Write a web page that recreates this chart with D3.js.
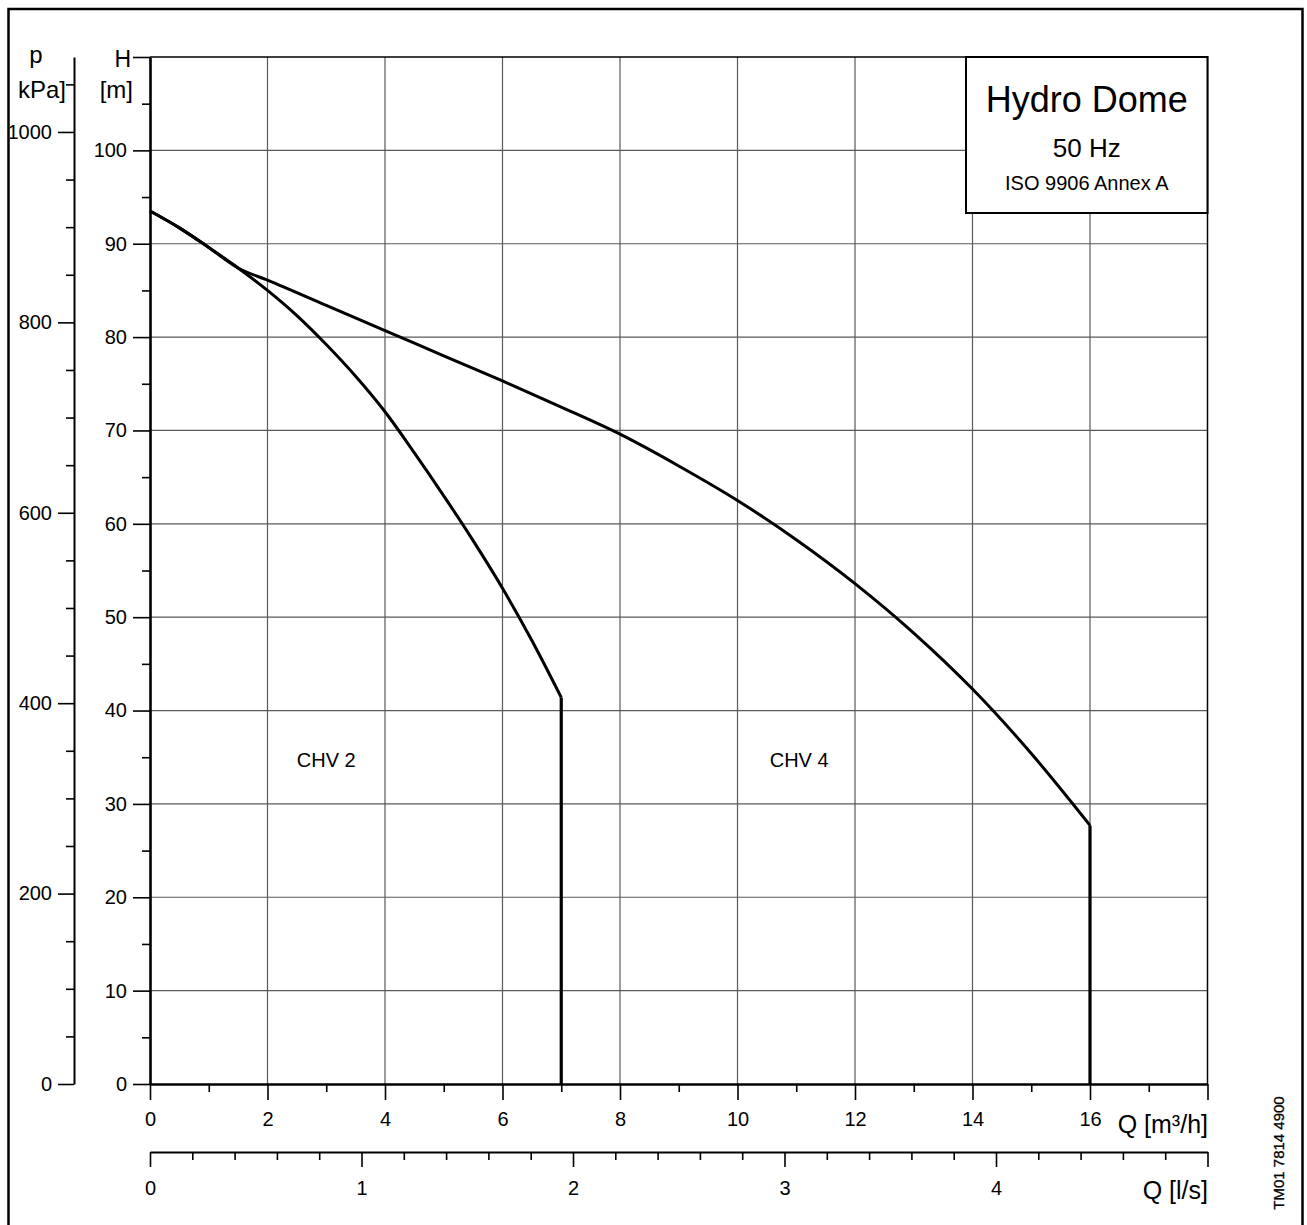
<!DOCTYPE html>
<html>
<head>
<meta charset="utf-8">
<script src="https://cdn.jsdelivr.net/npm/d3@7"></script>
<style>
  body { margin: 0; background: #fff; }
  svg { display: block; font-family: "Liberation Sans", Arial, sans-serif; }
</style>
</head>
<body>
<script>
// pump curves: Q in m3/h, H in m (last point = drop to zero at max flow)
var chv2Q = [0, 0.5, 1, 1.5, 2, 2.5, 3, 3.5, 4, 4.5, 5, 5.5, 6, 6.5, 7, 7];
var chv2H = [93.5, 91.7, 89.6, 87.4, 85.0, 82.3, 79.2, 75.8, 72.0, 67.6, 63.0, 58.2, 53.1, 47.5, 41.4, 0];

var chv4Q = [0, 0.5, 1, 1.5, 2, 3, 4, 5, 6, 7, 8, 9, 10, 11, 12, 13, 14, 15, 16, 16];
var chv4H = [93.5, 91.7, 89.6, 87.4, 86.1, 83.4, 80.7, 78.0, 75.3, 72.5, 69.6, 66.2, 62.5, 58.3, 53.6, 48.3, 42.3, 35.4, 27.7, 0];

var curveNames = ["CHV 2", "CHV 4"];
var labelQ = [3.0, 11.05];   // where the names sit
var labelH = [34, 34];

var hTicks = [0, 10, 20, 30, 40, 50, 60, 70, 80, 90, 100, 110];
var pTicks = [0, 200, 400, 600, 800, 1000];
var qTicks = [0, 2, 4, 6, 8, 10, 12, 14, 16, 18];
var lsTicks = [0, 1, 2, 3, 4, 5];

var titleLines = ["Hydro Dome", "50 Hz", "ISO 9906 Annex A"];
var docCode = "TM01 7814 4900";

var svgW = 1307, svgH = 1225;
var plotL = 150, plotR = 1207.5, plotT = 57, plotB = 1084;

var svg = d3.select("body").append("svg")
    .attr("width", svgW)
    .attr("height", svgH);

var defs = svg.append("defs");

var x = d3.scaleLinear().domain([0, 18]).range([plotL, plotR]);
var y = d3.scaleLinear().domain([0, 110]).range([plotB, plotT]);
var p = d3.scaleLinear().domain([0, 110 * 9.80665]).range([plotB, plotT]);
var xl = d3.scaleLinear().domain([0, 5]).range([plotL, plotR]);

var gridColor = "#5a5a5a";

// grid
svg.append("g").selectAll("line")
    .data(qTicks.filter(function(d) { return d > 0 && d < 18; }))
    .enter().append("line")
    .attr("x1", function(d) { return x(d); })
    .attr("x2", function(d) { return x(d); })
    .attr("y1", plotT)
    .attr("y2", plotB)
    .attr("stroke", gridColor)
    .attr("stroke-width", 1.2);

svg.append("g").selectAll("line")
    .data(hTicks.filter(function(d) { return d > 0 && d < 110; }))
    .enter().append("line")
    .attr("x1", plotL)
    .attr("x2", plotR)
    .attr("y1", function(d) { return y(d); })
    .attr("y2", function(d) { return y(d); })
    .attr("stroke", gridColor)
    .attr("stroke-width", 1.2);

// top and right plot border
svg.append("path")
    .attr("d", "M" + plotL + "," + y(110) + "H" + plotR + "V" + plotB)
    .attr("fill", "none")
    .attr("stroke", "#000")
    .attr("stroke-width", 1.5);

// title box
var box = svg.append("g");
box.append("rect")
    .attr("x", 966).attr("y", plotT)
    .attr("width", plotR - 966).attr("height", 156)
    .attr("fill", "#fff")
    .attr("stroke", "#000")
    .attr("stroke-width", 2);
var boxSizes = [36, 26, 20], boxBase = [112, 157, 190];
box.selectAll("text").data(titleLines).enter().append("text")
    .attr("x", (966 + plotR) / 2)
    .attr("y", function(d, i) { return boxBase[i]; })
    .attr("text-anchor", "middle")
    .attr("font-size", function(d, i) { return boxSizes[i]; })
    .text(function(d) { return d; });

function styleAxis(g, w) {
    g.select(".domain").attr("stroke", "#000").attr("stroke-width", w);
    g.selectAll(".tick line").attr("stroke", "#000").attr("stroke-width", 1.6);
    g.selectAll(".tick text").attr("fill", "#000").attr("font-size", 20)
        .attr("font-family", "Liberation Sans, Arial, sans-serif");
}

// H axis
var gH = svg.append("g").attr("transform", "translate(" + plotL + ",0)")
    .call(d3.axisLeft(y).tickValues(hTicks).tickSize(17).tickPadding(6).tickSizeOuter(0)
        .tickFormat(function(d) { return d === 110 ? "" : d; }));
styleAxis(gH, 2.6);
var gHm = svg.append("g").attr("transform", "translate(" + plotL + ",0)")
    .call(d3.axisLeft(y).tickValues(d3.range(5, 110, 10)).tickSize(8).tickFormat(""));
gHm.select(".domain").remove();
styleAxis(gHm, 0);

// p axis (the leading "1" of 1000 runs into the frame, as on the sheet)
var pAxisX = 74;
defs.append("clipPath").attr("id", "pClip")
    .append("rect").attr("x", 10 - pAxisX).attr("y", -20).attr("width", 200).attr("height", 60);
var gP = svg.append("g").attr("transform", "translate(" + pAxisX + ",0)")
    .call(d3.axisLeft(p).tickValues(pTicks).tickSize(16).tickPadding(6).tickSizeOuter(0)
        .tickFormat(d3.format("d")));
styleAxis(gP, 2);
gP.selectAll(".tick text").attr("clip-path", "url(#pClip)");
var gPm = svg.append("g").attr("transform", "translate(" + pAxisX + ",0)")
    .call(d3.axisLeft(p).tickValues(d3.range(50, 1078, 50).filter(function(d) { return d % 200 !== 0; }))
        .tickSize(8).tickFormat(""));
gPm.select(".domain").remove();
styleAxis(gPm, 0);

// Q m3/h axis
var gQ = svg.append("g").attr("transform", "translate(0," + plotB + ")")
    .call(d3.axisBottom(x).tickValues(qTicks).tickSize(16).tickPadding(12).tickSizeOuter(0)
        .tickFormat(function(d) { return d === 18 ? "" : d; }));
styleAxis(gQ, 2.6);
var gQm = svg.append("g").attr("transform", "translate(0," + plotB + ")")
    .call(d3.axisBottom(x).tickValues(d3.range(1, 18, 2)).tickSize(8).tickFormat(""));
gQm.select(".domain").remove();
styleAxis(gQm, 0);

// Q l/s axis
var lsY = 1152;
var gL = svg.append("g").attr("transform", "translate(0," + lsY + ")")
    .call(d3.axisBottom(xl).tickValues(lsTicks).tickSize(15).tickPadding(14).tickSizeOuter(0)
        .tickFormat(function(d) { return d === 5 ? "" : d; }));
styleAxis(gL, 2);
var gLm = svg.append("g").attr("transform", "translate(0," + lsY + ")")
    .call(d3.axisBottom(xl).tickValues(d3.range(0.2, 5, 0.2).filter(function(d) { return Math.abs(d - Math.round(d)) > 0.01; }))
        .tickSize(8).tickFormat(""));
gLm.select(".domain").remove();
styleAxis(gLm, 0);

// axis titles
function label(txt, px, py, size, anchor) {
    svg.append("text").attr("x", px).attr("y", py)
        .attr("font-size", size)
        .attr("text-anchor", anchor || "start")
        .text(txt);
}
label("H", 131, 67, 23, "end");
label("[m]", 133, 98, 24, "end");
label("p", 36, 63, 24, "middle");
label("kPa]", 66, 98, 24, "end");
label("Q [m\u00b3/h]", 1208, 1133, 25, "end");
label("Q [l/s]", 1208, 1199, 25, "end");

// curves: smooth head curve, then the straight drop at max flow
var line = d3.line()
    .x(function(d) { return x(d[0]); })
    .y(function(d) { return y(d[1]); })
    .curve(d3.curveMonotoneX);
var drop = d3.line()
    .x(function(d) { return x(d[0]); })
    .y(function(d) { return y(d[1]); });

var curves = [d3.zip(chv2Q, chv2H), d3.zip(chv4Q, chv4H)];
var cg = svg.append("g");
curves.forEach(function(c) {
    var head = c.slice(0, c.length - 1);
    cg.append("path")
        .attr("d", line(head))
        .attr("fill", "none")
        .attr("stroke", "#000")
        .attr("stroke-width", 3)
        .attr("stroke-linejoin", "round");
    cg.append("path")
        .attr("d", drop(c.slice(c.length - 2)))
        .attr("fill", "none")
        .attr("stroke", "#000")
        .attr("stroke-width", 3.2)
        .attr("stroke-linejoin", "round");
});

svg.append("g").selectAll("text").data(curveNames).enter().append("text")
    .attr("x", function(d, i) { return x(labelQ[i]); })
    .attr("y", function(d, i) { return y(labelH[i]); })
    .attr("text-anchor", "middle")
    .attr("font-size", 20)
    .text(function(d) { return d; });

// sheet code on the right
svg.append("text")
    .attr("transform", "translate(1284,1153) rotate(-90)")
    .attr("text-anchor", "middle")
    .attr("font-size", 15)
    .attr("stroke", "#000")
    .attr("stroke-width", 0.3)
    .text(docCode);

// outer frame
svg.append("rect")
    .attr("x", 8.5).attr("y", 9)
    .attr("width", 1294).attr("height", 1230)
    .attr("fill", "none")
    .attr("stroke", "#000")
    .attr("stroke-width", 2.5);
</script>
</body>
</html>
